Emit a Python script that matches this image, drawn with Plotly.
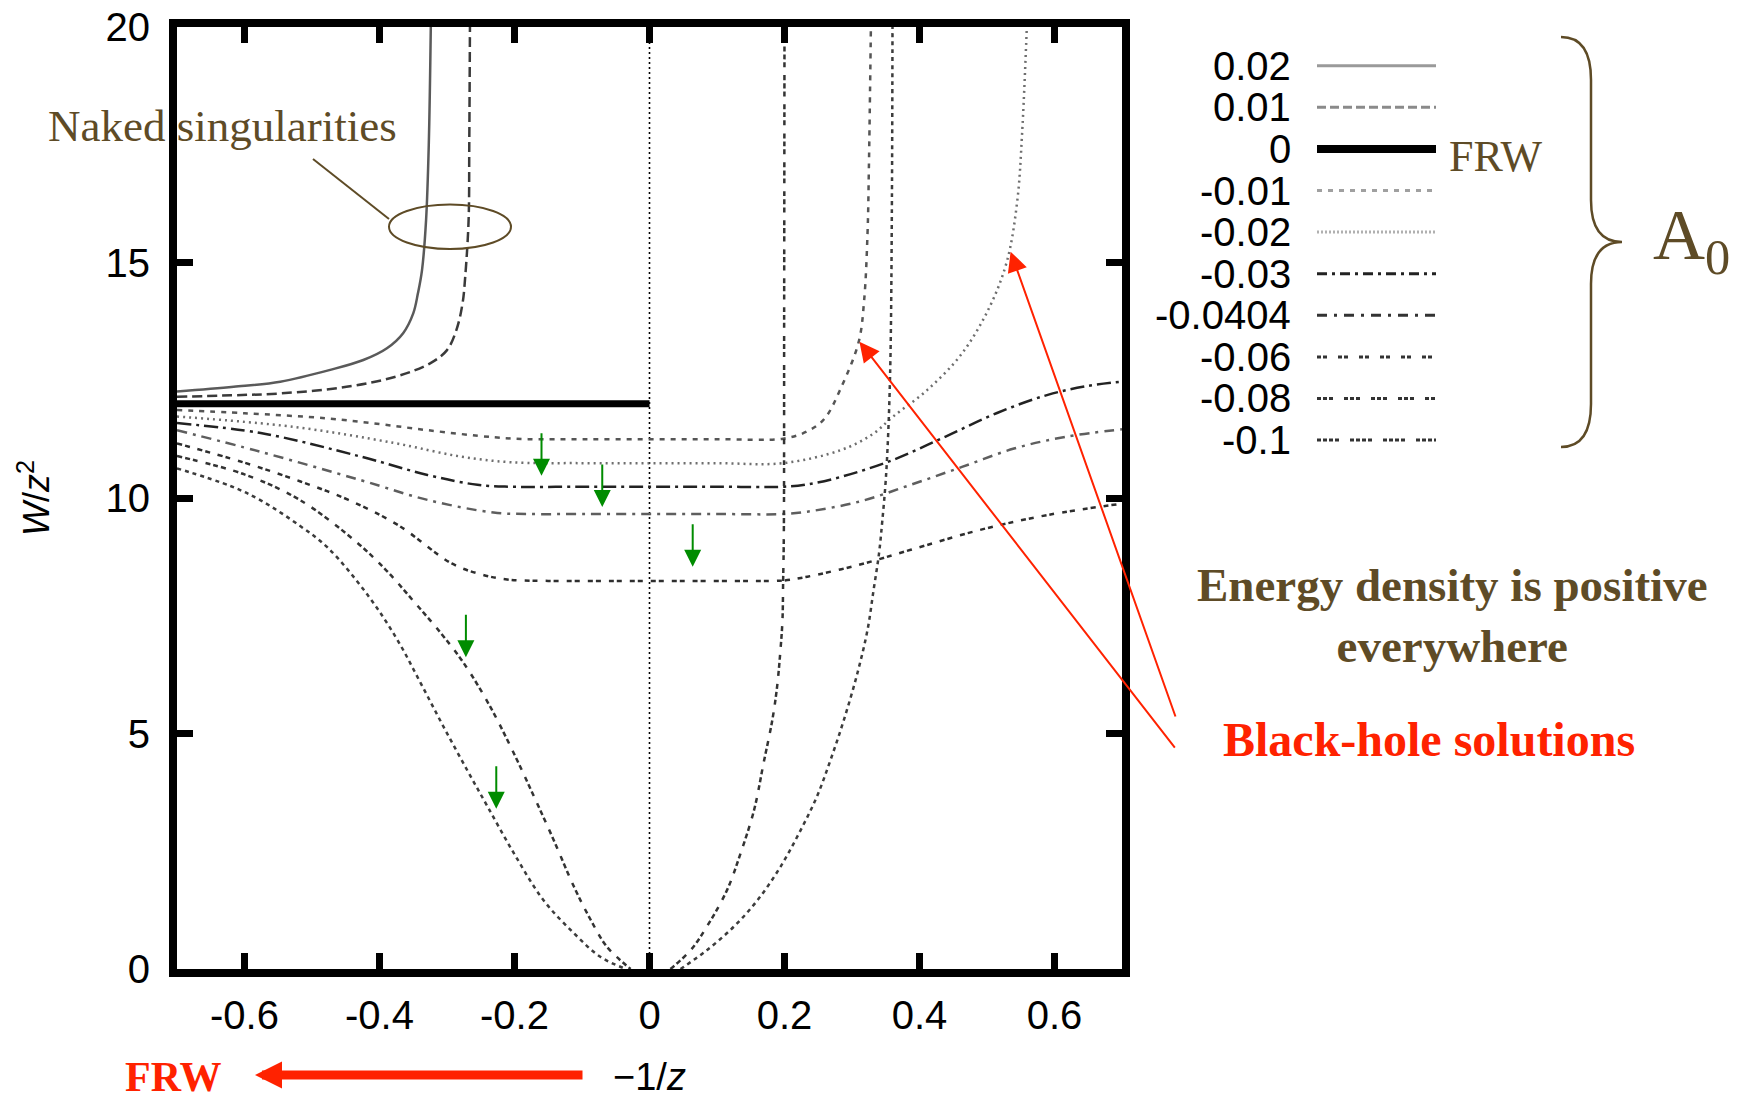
import plotly.graph_objects as go

# ---------------- data ----------------
A0_labels = ["0.02", "0.01", "0", "-0.01", "-0.02", "-0.03", "-0.0404", "-0.06", "-0.08", "-0.1"]

x_ticks = [-0.6, -0.4, -0.2, 0.0, 0.2, 0.4, 0.6]
x_tick_labels = ["-0.6", "-0.4", "-0.2", "0", "0.2", "0.4", "0.6"]
y_ticks = [0, 5, 10, 15, 20]
y_tick_labels = ["0", "5", "10", "15", "20"]

x_p002 = [-0.70, -0.616, -0.547, -0.473, -0.424, -0.389, -0.365, -0.350, -0.343, -0.337, -0.331, -0.327, -0.324]
y_p002 = [12.26, 12.36, 12.47, 12.72, 12.93, 13.18, 13.50, 13.92, 14.35, 14.84, 15.90, 17.50, 20.00]

x_p001 = [-0.70, -0.62, -0.547, -0.449, -0.375, -0.325, -0.300, -0.286, -0.277, -0.273, -0.268, -0.267, -0.266]
y_p001 = [12.15, 12.18, 12.22, 12.36, 12.58, 12.86, 13.14, 13.57, 14.13, 14.70, 15.90, 17.50, 20.00]

x_0 = [-0.70, 0.0]
y_0 = [12.0, 12.0]

x_m001 = [-0.70, -0.60, -0.477, -0.40, -0.329, -0.231, -0.18, -0.10, 0.0, 0.10, 0.198, 0.233, 0.259, 0.284, 0.31, 0.318, 0.323, 0.325, 0.328]
y_m001 = [11.87, 11.80, 11.69, 11.57, 11.44, 11.29, 11.25, 11.25, 11.25, 11.25, 11.26, 11.41, 11.68, 12.35, 13.32, 14.20, 15.62, 17.00, 20.00]

x_m002 = [-0.70, -0.527, -0.379, -0.28, -0.206, -0.10, 0.0, 0.10, 0.198, 0.284, 0.33, 0.361, 0.412, 0.463, 0.504, 0.53, 0.545, 0.552, 0.559]
y_m002 = [11.73, 11.51, 11.17, 10.88, 10.76, 10.74, 10.74, 10.74, 10.74, 11.02, 11.35, 11.73, 12.30, 13.07, 14.06, 15.05, 16.33, 17.74, 20.00]

x_m003 = [-0.70, -0.576, -0.428, -0.329, -0.255, -0.206, -0.10, 0.0, 0.10, 0.20, 0.234, 0.284, 0.361, 0.438, 0.514, 0.59, 0.65, 0.70]
y_m003 = [11.59, 11.38, 10.88, 10.49, 10.28, 10.24, 10.24, 10.24, 10.24, 10.24, 10.29, 10.45, 10.81, 11.30, 11.80, 12.19, 12.38, 12.47]

x_m00404 = [-0.70, -0.576, -0.428, -0.329, -0.231, -0.181, -0.10, 0.0, 0.10, 0.20, 0.234, 0.31, 0.387, 0.463, 0.54, 0.617, 0.70]
y_m00404 = [11.44, 10.98, 10.38, 9.96, 9.69, 9.66, 9.66, 9.66, 9.66, 9.66, 9.71, 9.92, 10.28, 10.66, 11.05, 11.30, 11.46]

x_m006 = [-0.70, -0.60, -0.517, -0.446, -0.372, -0.293, -0.25, -0.211, -0.15, -0.05, 0.05, 0.15, 0.20, 0.234, 0.31, 0.387, 0.489, 0.59, 0.70]
y_m006 = [11.16, 10.75, 10.35, 9.96, 9.42, 8.61, 8.38, 8.27, 8.24, 8.24, 8.24, 8.24, 8.25, 8.33, 8.58, 8.90, 9.32, 9.64, 9.88]

x_m008_left = [-0.70, -0.60, -0.517, -0.433, -0.389, -0.349, -0.309, -0.275, -0.236, -0.201, -0.171, -0.142, -0.112, -0.087, -0.063, -0.028]
y_m008_left = [10.89, 10.50, 9.95, 9.05, 8.45, 7.80, 7.13, 6.49, 5.57, 4.58, 3.66, 2.74, 1.75, 1.04, 0.47, 0.0]
x_m008_right = [0.031, 0.061, 0.085, 0.115, 0.135, 0.155, 0.169, 0.182, 0.189, 0.194, 0.197, 0.198, 0.199, 0.1995, 0.200]
y_m008_right = [0.0, 0.40, 0.90, 1.68, 2.46, 3.38, 4.37, 5.29, 5.99, 6.77, 7.41, 8.26, 9.18, 14.0, 20.0]

x_m010_left = [-0.70, -0.62, -0.576, -0.517, -0.477, -0.418, -0.374, -0.339, -0.305, -0.27, -0.24, -0.201, -0.157, -0.112, -0.073, -0.035]
y_m010_left = [10.63, 10.25, 9.95, 9.40, 8.95, 7.95, 7.00, 6.07, 5.14, 4.22, 3.45, 2.46, 1.46, 0.76, 0.26, 0.0]
x_m010_right = [0.046, 0.085, 0.125, 0.160, 0.194, 0.224, 0.248, 0.268, 0.288, 0.308, 0.323, 0.332, 0.340, 0.345, 0.350, 0.354, 0.357, 0.359, 0.360]
y_m010_right = [0.0, 0.40, 0.90, 1.46, 2.17, 2.95, 3.66, 4.43, 5.29, 6.28, 7.20, 8.05, 8.82, 9.53, 10.38, 11.5, 13.0, 16.0, 20.0]

# green "decreasing A0" arrows (tip positions on the curves)
green_arrow_x = [-0.16, -0.07, 0.064, -0.272, -0.227]
green_arrow_y = [10.47, 9.81, 8.54, 6.62, 3.40]

# red "Black-hole solutions" pointers: tip on curve, tail near the label
red_tip_x = [0.311, 0.535]
red_tip_y = [13.32, 15.23]
red_tail_x = [0.780, 0.780]
red_tail_y = [4.67, 5.33]

# ---------------- styling ----------------
W, H = 1744, 1098
L, R, T, B = 177, 1122, 27, 969   # plot area in pixels
BROWN = "#5e4b26"
RED = "#ff2200"
GREEN = "#008c00"
SERIF = "Liberation Serif"
SANS = "Liberation Sans"


def px(p):
    return (p - L) / (R - L)


def py(p):
    return (B - p) / (B - T)


styles = {
    "0.02": dict(color="#5a5a5a", width=2.5, dash="solid"),
    "0.01": dict(color="#3a3a3a", width=2.5, dash="10px,5px"),
    "0": dict(color="black", width=7, dash="solid"),
    "-0.01": dict(color="#555555", width=2.5, dash="5px,6px"),
    "-0.02": dict(color="#6e6e6e", width=2.5, dash="2px,4px"),
    "-0.03": dict(color="#222222", width=2.5, dash="14px,5px,3px,5px"),
    "-0.0404": dict(color="#5e5e5e", width=2.5, dash="10px,6px,3px,6px"),
    "-0.06": dict(color="#2e2e2e", width=2.5, dash="5px,3px,5px,8px"),
    "-0.08": dict(color="#333333", width=2.5, dash="5px,3px,5px,3px,5px,8px"),
    "-0.1": dict(color="#3c3c3c", width=2.5, dash="4px,4px"),
}
legend_styles = {
    "0.02": dict(color="#9a9a9a", width=3, dash="solid"),
    "0.01": dict(color="#8a8a8a", width=3, dash="9px,4px"),
    "0": dict(color="black", width=8, dash="solid"),
    "-0.01": dict(color="#a0a0a0", width=3, dash="5px,6px"),
    "-0.02": dict(color="#b0b0b0", width=3, dash="2px,2px"),
    "-0.03": dict(color="#222222", width=3, dash="10px,5px,3px,5px"),
    "-0.0404": dict(color="#333333", width=3, dash="10px,7px,3px,7px"),
    "-0.06": dict(color="#333333", width=3, dash="4px,2px,4px,11px"),
    "-0.08": dict(color="#333333", width=3, dash="4px,2px,4px,2px,4px,11px"),
    "-0.1": dict(color="#333333", width=3, dash="4px,2px,4px,2px,4px,2px,4px,11px"),
}

curves = [
    ("0.02", x_p002, y_p002),
    ("0.01", x_p001, y_p001),
    ("-0.01", x_m001, y_m001),
    ("-0.02", x_m002, y_m002),
    ("-0.03", x_m003, y_m003),
    ("-0.0404", x_m00404, y_m00404),
    ("-0.06", x_m006, y_m006),
    ("-0.08", x_m008_left, y_m008_left),
    ("-0.08", x_m008_right, y_m008_right),
    ("-0.1", x_m010_left, y_m010_left),
    ("-0.1", x_m010_right, y_m010_right),
    ("0", x_0, y_0),
]

fig = go.Figure()
for name, xs, ys in curves:
    st = styles[name]
    fig.add_trace(go.Scatter(
        x=xs, y=ys, mode="lines", name=name, showlegend=False,
        line=dict(color=st["color"], width=st["width"], dash=st["dash"],
                  shape="spline" if len(xs) > 2 else "linear", smoothing=1.0),
        hoverinfo="skip",
    ))

shapes = []
annotations = []

# gnuplot zero axis (x = 0)
shapes.append(dict(type="line", xref="x", yref="y", x0=0, x1=0, y0=0, y1=20,
                   line=dict(color="black", width=1.6, dash="2px,3px"), layer="below"))

# ---- key (legend) drawn gnuplot-style: label left, sample right ----
for i, lab in enumerate(A0_labels):
    yc = 65.7 + 41.6 * i
    st = legend_styles[lab]
    annotations.append(dict(xref="paper", yref="paper", x=px(1293), y=py(yc),
                            xanchor="right", yanchor="middle", showarrow=False,
                            text=lab, font=dict(family=SANS, size=40, color="black")))
    shapes.append(dict(type="line", xref="paper", yref="paper",
                       x0=px(1317), x1=px(1436), y0=py(yc), y1=py(yc),
                       line=dict(color=st["color"], width=st["width"], dash=st["dash"])))
annotations.append(dict(xref="paper", yref="paper", x=px(1447), y=py(157),
                        xanchor="left", yanchor="middle", showarrow=False,
                        text="FRW", font=dict(family=SERIF, size=44, color=BROWN)))

# brace + A0
def P(xp, yp):
    return f"{px(xp):.5f},{py(yp):.5f}"

brace = (f"M {P(1561, 37)} Q {P(1591, 37)} {P(1591, 80)} L {P(1591, 200)} "
         f"Q {P(1591, 242)} {P(1622, 242)} Q {P(1591, 242)} {P(1591, 284)} "
         f"L {P(1591, 404)} Q {P(1591, 447)} {P(1561, 447)}")
shapes.append(dict(type="path", xref="paper", yref="paper", path=brace,
                   line=dict(color=BROWN, width=2.5)))
annotations.append(dict(xref="paper", yref="paper", x=px(1651), y=py(240),
                        xanchor="left", yanchor="middle", showarrow=False,
                        text="A<sub>0</sub>", font=dict(family=SERIF, size=72, color=BROWN)))

# Naked singularities label, ellipse and leader
annotations.append(dict(xref="paper", yref="paper", x=px(222), y=py(126),
                        xanchor="center", yanchor="middle", showarrow=False,
                        text="Naked singularities", font=dict(family=SERIF, size=45, color=BROWN)))
shapes.append(dict(type="circle", xref="paper", yref="paper",
                   x0=px(389), x1=px(511), y0=py(249), y1=py(204.5),
                   line=dict(color=BROWN, width=2)))
shapes.append(dict(type="line", xref="paper", yref="paper",
                   x0=px(313), y0=py(159), x1=px(389), y1=py(219),
                   line=dict(color=BROWN, width=2)))

# right side texts
annotations.append(dict(xref="paper", yref="paper", x=px(1452), y=py(615),
                        xanchor="center", yanchor="middle", showarrow=False, align="center",
                        text="<b>Energy density is positive</b><br><b>everywhere</b>",
                        font=dict(family=SERIF, size=47, color=BROWN)))
annotations.append(dict(xref="paper", yref="paper", x=px(1429), y=py(739),
                        xanchor="center", yanchor="middle", showarrow=False,
                        text="<b>Black-hole solutions</b>",
                        font=dict(family=SERIF, size=48, color=RED)))

# red pointers
for tx, ty, ax, ay in zip(red_tip_x, red_tip_y, red_tail_x, red_tail_y):
    annotations.append(dict(xref="x", yref="y", x=tx, y=ty, axref="x", ayref="y", ax=ax, ay=ay,
                            text="", showarrow=True, arrowhead=2, arrowsize=2.0,
                            arrowwidth=2, arrowcolor=RED))

# green arrows
for gx, gy in zip(green_arrow_x, green_arrow_y):
    annotations.append(dict(xref="x", yref="y", x=gx, y=gy, ax=0, ay=-44,
                            text="", showarrow=True, arrowhead=2, arrowsize=1.7,
                            arrowwidth=2, arrowcolor=GREEN))

# bottom FRW arrow
annotations.append(dict(xref="paper", yref="paper", x=px(255), y=py(1075), ax=329, ay=0,
                        text="", showarrow=True, arrowhead=2, arrowsize=0.6,
                        arrowwidth=9, arrowcolor=RED))
annotations.append(dict(xref="paper", yref="paper", x=px(173), y=py(1077),
                        xanchor="center", yanchor="middle", showarrow=False,
                        text="<b>FRW</b>", font=dict(family=SERIF, size=42, color=RED)))

axis_common = dict(
    ticks="inside", ticklen=16, tickwidth=7, tickcolor="black",
    showline=True, linewidth=8, linecolor="black", mirror="ticks",
    showgrid=False, zeroline=False,
    tickfont=dict(family=SANS, size=40, color="black"),
)

fig.update_layout(
    width=W, height=H,
    margin=dict(l=L, r=W - R, t=T, b=H - B, autoexpand=False),
    plot_bgcolor="white", paper_bgcolor="white",
    showlegend=False,
    xaxis=dict(range=[-0.7, 0.7], tickvals=x_ticks, ticktext=x_tick_labels,
               ticklabelstandoff=4,
               title=dict(text="\u22121/<i>z</i>", standoff=34,
                          font=dict(family=SANS, size=38, color="black")),
               **axis_common),
    yaxis=dict(range=[0, 20], tickvals=y_ticks, ticktext=y_tick_labels,
               ticklabelstandoff=11,
               title=dict(text="<i>W</i>/<i>z</i><sup>2</sup>", standoff=48,
                          font=dict(family=SANS, size=36, color="black")),
               **axis_common),
    shapes=shapes,
    annotations=annotations,
)

fig.write_html("out.html")
